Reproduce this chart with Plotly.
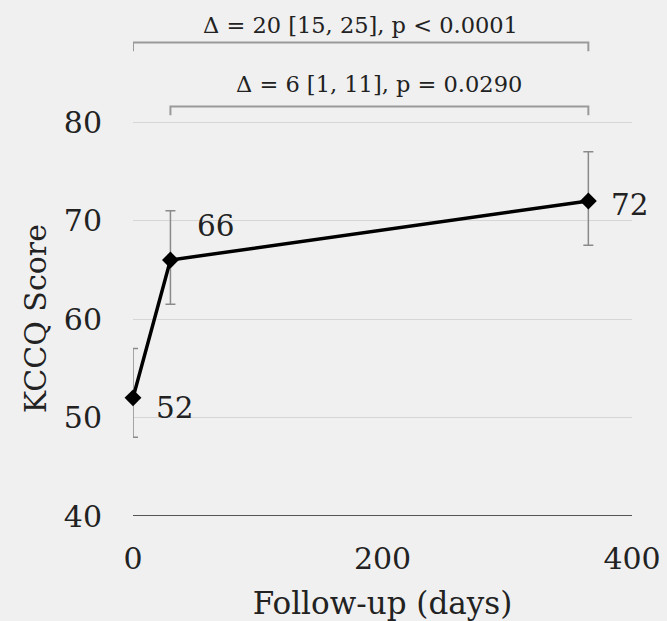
import plotly.graph_objects as go

# Data
days = [0, 30, 365]
kccq = [52, 66, 72]
err_plus = [5, 5, 5]
err_minus = [4, 4.5, 4.5]
point_labels = ["52", "66", "72"]
x_ticks = [0, 200, 400]
y_ticks = [40, 50, 60, 70, 80]
brackets = [
    {"x0": 0, "x1": 365, "text": "Δ = 20 [15, 25], p < 0.0001"},
    {"x0": 30, "x1": 365, "text": "Δ = 6 [1, 11], p = 0.0290"},
]

FONT = "DejaVu Serif"
BG = "#f0f0f0"
TXT = "#222"

fig = go.Figure()
fig.add_trace(go.Scatter(
    x=days, y=kccq, mode="lines+markers",
    line=dict(color="black", width=3.5),
    marker=dict(symbol="diamond", size=13, color="black"),
    error_y=dict(type="data", symmetric=False, array=err_plus, arrayminus=err_minus,
                 color="#8a8a8a", thickness=1.5, width=5),
    showlegend=False, cliponaxis=False,
))

# point labels
shifts = [(21, -10), (25, 34), (21, -4)]
for xv, yv, t, (dx, dy) in zip(days, kccq, point_labels, shifts):
    fig.add_annotation(x=xv, y=yv, text=t, showarrow=False, xanchor="left",
                       yanchor="middle", xshift=dx, yshift=dy,
                       font=dict(family=FONT, size=29.5, color=TXT))

# brackets
br_y = [88.1, 81.6]
br_drop = 0.9
txt_y = [89.9, 83.9]
for b, yb, yt in zip(brackets, br_y, txt_y):
    fig.add_shape(type="path",
                  path=f"M {b['x0']},{yb-br_drop} L {b['x0']},{yb} L {b['x1']},{yb} L {b['x1']},{yb-br_drop}",
                  xref="x", yref="y", line=dict(color="#9a9a9a", width=2))
    fig.add_annotation(x=(b["x0"] + b["x1"]) / 2, y=yt, text=b["text"], showarrow=False,
                       xanchor="center", yanchor="middle",
                       font=dict(family=FONT, size=22.5, color=TXT))

# y-axis title, centred on the tick span
fig.add_annotation(x=-0.196, xref="paper", y=(y_ticks[0] + y_ticks[-1]) / 2, yref="y",
                   text="KCCQ Score", textangle=-90, showarrow=False,
                   xanchor="center", yanchor="middle",
                   font=dict(family=FONT, size=30, color=TXT))

fig.update_layout(
    width=667, height=621,
    margin=dict(l=133, r=35, t=5, b=105),
    paper_bgcolor=BG, plot_bgcolor=BG,
    font=dict(family=FONT, color=TXT),
)
fig.update_xaxes(
    range=[0, 400], tickvals=x_ticks, showgrid=False, zeroline=False,
    showline=False, ticks="", ticklabelstandoff=22,
    tickfont=dict(family=FONT, size=30, color=TXT),
    title=dict(text="Follow-up (days)", font=dict(family=FONT, size=31, color=TXT), standoff=17),
)
fig.update_yaxes(
    range=[40, 91.9], tickvals=y_ticks, showgrid=True, gridcolor="#d6d6d6", gridwidth=1,
    zeroline=False, showline=False, ticks="", ticklabelstandoff=30,
    tickfont=dict(family=FONT, size=30, color=TXT),
)
# axis baseline at y=40
fig.add_shape(type="line", x0=0, x1=1, xref="paper", y0=y_ticks[0], y1=y_ticks[0], yref="y",
              line=dict(color="#555", width=2))

fig.write_html("out.html", config={"displayModeBar": False},
               post_script="document.body.style.margin='0';")
